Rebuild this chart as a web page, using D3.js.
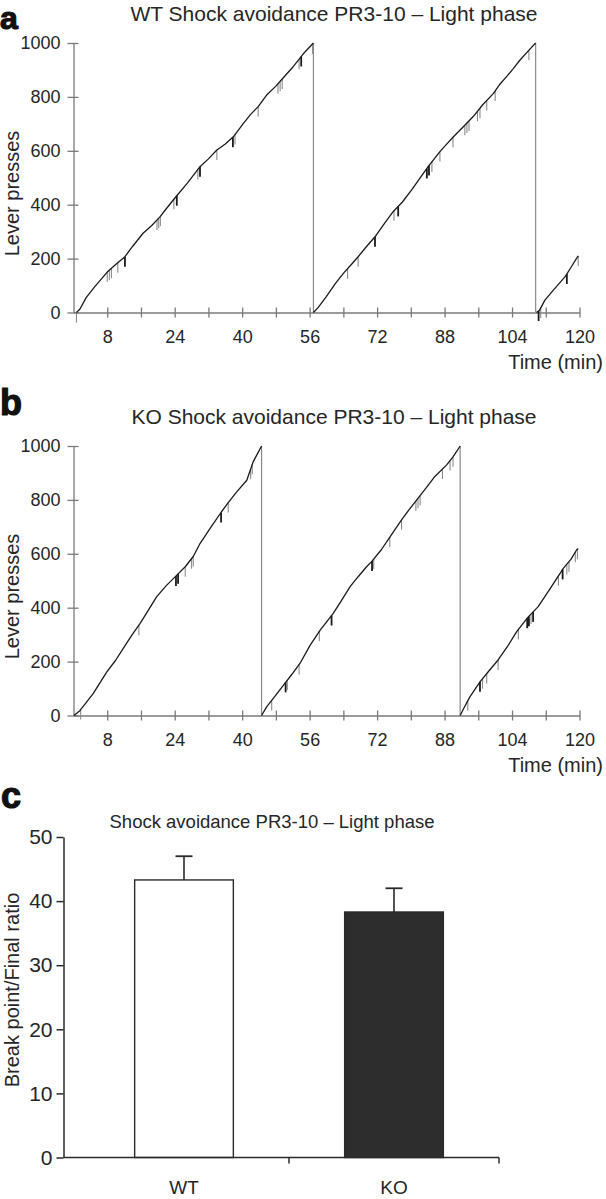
<!DOCTYPE html>
<html><head><meta charset="utf-8">
<script src="https://cdn.jsdelivr.net/npm/d3@7"></script>
<style>
html,body{margin:0;padding:0;background:#fff;}
svg{display:block;font-family:"Liberation Sans",Arial,sans-serif;}
</style></head>
<body>
<svg id="chart" width="606" height="1199"></svg>
<script>
// ---------- DATA ----------
const timeTicks = d3.range(0, 121, 8);
const timeLabels = [8, 24, 40, 56, 72, 88, 104, 120];
const pressTicks = [0, 200, 400, 600, 800, 1000];

// WT cumulative record, one array per ratio run (time min, lever presses)
const wtRun1 = [[0.7,0],[1.5,12],[3,55],[5,95],[8,150],[10,178],[12.2,207],[14,245],[16.5,294],[18.5,322],[20.5,355],[22,385],[24,424],[27,480],[30,541],[32,570],[34,603],[36,625],[37.9,652],[40.3,702],[42,735],[43.8,764],[45.8,807],[48,840],[49.7,870],[52.1,912],[54.5,960],[56.9,1000]];
const wtRun2 = [[56.9,0],[58,18],[60,60],[62,105],[64,145],[66,180],[67.5,207],[69.5,245],[71.5,281],[73.5,325],[75.8,374],[78,410],[80.2,455],[82,495],[84.1,541],[86.9,597],[88.5,625],[90.1,652],[92.5,690],[94.8,727],[97,770],[99.6,813],[101,845],[102.7,875],[104.3,905],[105.9,937],[107.8,970],[109.6,1000]];
const wtRun3 = [[109.8,0],[110.5,8],[111.8,46],[113.8,83],[115.2,108],[116.6,133],[118,168],[119.3,201],[119.7,210]];
const wtEventsGrey = [0.7,8,8.5,9,10.5,19.8,20.2,20.6,23.8,29.5,34,38.3,43.8,48.5,49,49.5,53.5,56.7,65,67.5,76,85,86.9,90,92.8,93.3,93.8,95.8,96.4,98,100,108,110.8,119.7];
const wtEventsBlack = [12.2,24.5,30,37.8,54,71.5,77,83.8,84.3,110.3,117];

// KO cumulative record
const koRun1 = [[0.1,0],[1.5,18],[3,48],[4.7,82],[6.3,122],[7.9,162],[10,205],[11.8,249],[13.8,297],[15.8,342],[17.8,392],[19.7,440],[22,482],[24.5,521],[26.5,552],[28.4,590],[30,638],[32.4,694],[35.1,756],[36.7,790],[38.7,830],[41.1,873],[42.6,941],[44.6,1000]];
const koRun2 = [[44.6,0],[45.8,32],[47.8,72],[49.8,113],[51.8,153],[53.7,193],[56.1,260],[58.5,317],[61.6,379],[63.5,425],[65.6,478],[67.5,515],[69.5,552],[70.7,571],[73,615],[75.1,664],[77.8,726],[79.5,762],[81.4,800],[83.5,842],[85.7,887],[88.5,930],[90,960],[91.7,1000]];
const koRun3 = [[91.7,0],[92.5,25],[94,69],[96.4,125],[98.5,165],[100.7,206],[103,258],[105.1,311],[107.8,365],[110.2,404],[113,470],[116.2,547],[118,580],[119.3,614],[119.7,620]];
const koEventsGrey = [1.7,15.5,26.5,28,28.4,36.7,42,42.4,47,50.7,53.5,58.3,71.2,75,77.8,81.2,81.7,82.2,87.5,89.3,90,93.5,97,98,100.7,105.5,108.5,115,117,117.5,119,119.5];
const koEventsBlack = [24.3,24.8,35,50.3,61.2,70.8,96.4,107.6,108,109,116];

// Bar chart
const groups = ["WT", "KO"];
const ratioMean = [43.3, 38.3];
const ratioSem = [3.7, 3.7];
const ratioTicks = [0, 10, 20, 30, 40, 50];

// ---------- DRAW ----------
const svg = d3.select("#chart");
const AX = "#7a7a7a", TXT = "#262626";

function cumPanel(cfg) {
  const x = d3.scaleLinear().domain([0, 120]).range([73.5, 579.5]);
  const y = d3.scaleLinear().domain([0, 1000]).range([cfg.y0, cfg.y0 - 269.5]);
  const g = svg.append("g");

  // y axis
  const ya = g.append("g").attr("transform", `translate(${x.range()[0]},0)`)
    .call(d3.axisLeft(y).tickValues(pressTicks).tickFormat(d3.format("d")).tickSizeInner(6).tickSizeOuter(0).tickPadding(7));
  ya.select(".domain").attr("stroke", AX).attr("stroke-width", 1.3);
  ya.selectAll(".tick line").attr("stroke", AX).attr("stroke-width", 1.3).attr("x2", -6).attr("x1", 5);
  ya.selectAll(".tick text").attr("fill", TXT).style("font-size", "18px").style("font-family", "Liberation Sans, Arial, sans-serif");

  // x axis
  const xa = g.append("g").attr("transform", `translate(0,${cfg.y0})`)
    .call(d3.axisBottom(x).tickValues(timeTicks.filter(d => d > 0))
      .tickFormat(d => timeLabels.includes(d) ? d : "").tickSizeInner(5).tickSizeOuter(0).tickPadding(13));
  xa.select(".domain").attr("stroke", AX).attr("stroke-width", 1.3);
  xa.selectAll(".tick line").attr("stroke", AX).attr("stroke-width", 1.3).attr("y1", -5).attr("y2", 5);
  xa.selectAll(".tick text").attr("fill", TXT).style("font-size", "18px").style("font-family", "Liberation Sans, Arial, sans-serif");

  const line = d3.line().x(d => x(d[0])).y(d => y(d[1]));
  // reset lines
  cfg.runs.forEach((r, i) => {
    if (i < cfg.runs.length - 1) {
      const last = r[r.length - 1];
      g.append("line").attr("x1", x(last[0])).attr("x2", x(last[0]))
        .attr("y1", y(last[1])).attr("y2", y(0)).attr("stroke", "#8a8a8a").attr("stroke-width", 1.2);
    }
  });
  // event markers
  function valAt(t) {
    for (const r of cfg.runs) {
      if (t >= r[0][0] && t <= r[r.length - 1][0]) {
        const i = d3.bisector(d => d[0]).left(r, t);
        if (i === 0) return r[0][1];
        const a = r[i - 1], b = r[i];
        return a[1] + (b[1] - a[1]) * (t - a[0]) / (b[0] - a[0]);
      }
    }
    return 0;
  }
  g.selectAll(".evg").data(cfg.grey).join("line")
    .attr("x1", d => x(d)).attr("x2", d => x(d))
    .attr("y1", d => y(valAt(d))).attr("y2", d => y(valAt(d)) + 10)
    .attr("stroke", "#8c8c8c").attr("stroke-width", 1.1);
  g.selectAll(".evk").data(cfg.black).join("line")
    .attr("x1", d => x(d)).attr("x2", d => x(d))
    .attr("y1", d => y(valAt(d))).attr("y2", d => y(valAt(d)) + 10)
    .attr("stroke", "#1a1a1a").attr("stroke-width", 1.8);
  // curves
  cfg.runs.forEach(r => {
    g.append("path").datum(r).attr("d", line).attr("fill", "none")
      .attr("stroke", "#1a1a1a").attr("stroke-width", 1.3).attr("stroke-linejoin", "round");
  });

  // texts
  g.append("text").attr("x", 334).attr("y", cfg.y0 - 291.5).attr("text-anchor", "middle")
    .attr("fill", TXT).style("font-size", "21px").text(cfg.title);
  g.append("text").attr("transform", `translate(18.5,${cfg.y0 - 119}) rotate(-90)`).attr("text-anchor", "middle")
    .attr("fill", TXT).style("font-size", "20px").text("Lever presses");
  g.append("text").attr("x", 603).attr("y", cfg.y0 + 56.5).attr("text-anchor", "end")
    .attr("fill", TXT).style("font-size", "20px").text("Time (min)");
  g.append("text").attr("x", 0).attr("y", cfg.letterY).attr("fill", "#111")
    .style("font-size", cfg.letterSize + "px").style("font-weight", "bold")
    .attr("stroke", "#111").attr("stroke-width", 1.2).text(cfg.letter);
}

cumPanel({y0: 312.5, runs: [wtRun1, wtRun2, wtRun3], grey: wtEventsGrey, black: wtEventsBlack,
  title: "WT Shock avoidance PR3-10 \u2013 Light phase", letter: "a", letterY: 29, letterSize: 32});
cumPanel({y0: 715.5, runs: [koRun1, koRun2, koRun3], grey: koEventsGrey, black: koEventsBlack,
  title: "KO Shock avoidance PR3-10 \u2013 Light phase", letter: "b", letterY: 415, letterSize: 36});

// ---------- Panel c ----------
(function () {
  const DK = "#2a2a2a";
  const yC = d3.scaleLinear().domain([0, 50]).range([1157.5, 837]);
  const xC = d3.scaleBand().domain(groups).range([79, 499]).paddingInner(0).paddingOuter(0);
  const g = svg.append("g");
  const bw = xC.bandwidth() * 0.47;

  const bars = groups.map((k, i) => ({k, m: ratioMean[i], s: ratioSem[i]}));
  // error bars (upper only)
  g.selectAll(".eb").data(bars).join("line")
    .attr("x1", d => xC(d.k) + xC.bandwidth() / 2).attr("x2", d => xC(d.k) + xC.bandwidth() / 2)
    .attr("y1", d => yC(d.m)).attr("y2", d => yC(d.m + d.s)).attr("stroke", DK).attr("stroke-width", 1.6);
  g.selectAll(".ec").data(bars).join("line")
    .attr("x1", d => xC(d.k) + xC.bandwidth() / 2 - 8.5).attr("x2", d => xC(d.k) + xC.bandwidth() / 2 + 8.5)
    .attr("y1", d => yC(d.m + d.s)).attr("y2", d => yC(d.m + d.s)).attr("stroke", DK).attr("stroke-width", 1.8);
  g.selectAll(".bar").data(bars).join("rect")
    .attr("x", d => xC(d.k) + xC.bandwidth() / 2 - bw / 2).attr("width", bw)
    .attr("y", d => yC(d.m)).attr("height", d => yC(0) - yC(d.m))
    .attr("fill", (d, i) => i === 0 ? "#fff" : "#2d2d2d").attr("stroke", DK).attr("stroke-width", 1.4);

  const ya = g.append("g").attr("transform", "translate(63.5,0)")
    .call(d3.axisLeft(yC).tickValues(ratioTicks).tickSizeInner(7).tickSizeOuter(0).tickPadding(4));
  ya.select(".domain").attr("stroke", DK).attr("stroke-width", 1.5);
  ya.selectAll(".tick line").attr("stroke", DK).attr("stroke-width", 1.5);
  ya.selectAll(".tick text").attr("fill", TXT).style("font-size", "21px").style("font-family", "Liberation Sans, Arial, sans-serif");

  // x axis with boundary ticks
  g.append("line").attr("x1", 63.5).attr("x2", 499).attr("y1", yC(0)).attr("y2", yC(0)).attr("stroke", DK).attr("stroke-width", 1.5);
  const bounds = groups.map(k => xC(k) + xC.bandwidth());
  g.selectAll(".xt").data(bounds).join("line")
    .attr("x1", d => d).attr("x2", d => d).attr("y1", yC(0)).attr("y2", yC(0) + 6).attr("stroke", DK).attr("stroke-width", 1.5);
  g.selectAll(".xl").data(groups).join("text")
    .attr("x", d => xC(d) + xC.bandwidth() / 2).attr("y", 1194).attr("text-anchor", "middle")
    .attr("fill", TXT).style("font-size", "19px").text(d => d);

  g.append("text").attr("x", 272).attr("y", 828).attr("text-anchor", "middle")
    .attr("fill", TXT).style("font-size", "18.5px").text("Shock avoidance PR3-10 \u2013 Light phase");
  g.append("text").attr("transform", "translate(19,990) rotate(-90)").attr("text-anchor", "middle")
    .attr("fill", TXT).style("font-size", "20px").text("Break point/Final ratio");
  g.append("text").attr("x", 1).attr("y", 808).attr("fill", "#111")
    .style("font-size", "36px").style("font-weight", "bold")
    .attr("stroke", "#111").attr("stroke-width", 1.2).text("c");
})();
</script>
</body></html>
